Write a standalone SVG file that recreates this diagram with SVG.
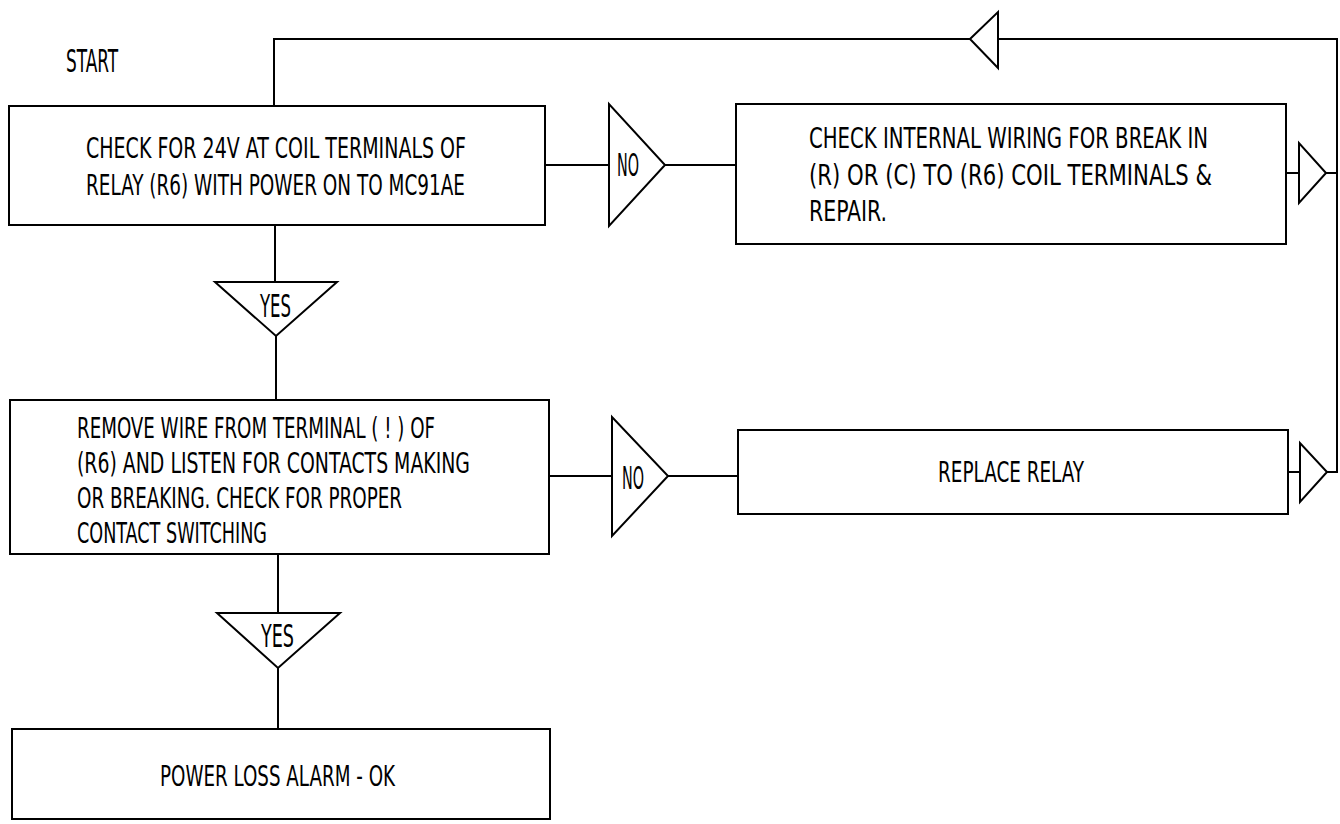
<svg xmlns="http://www.w3.org/2000/svg" width="1340" height="824" viewBox="0 0 1340 824">
<style>
.box{fill:#fff;stroke:#000;stroke-width:2}
.tri{fill:#fff;stroke:#000;stroke-width:2;stroke-linejoin:miter}
.ln{fill:none;stroke:#000;stroke-width:2}
text{font-family:"Liberation Sans Narrow","DejaVu Sans Condensed","Liberation Sans",sans-serif;font-size:29px;fill:#000}
.big{font-size:32px}
</style>
<rect width="1340" height="824" fill="#fff"/>
<g id="connectors">
<polyline class="ln" points="274,106 274,39 970,39"/>
<polyline class="ln" points="998,39 1337,39 1337,472 1327,472"/>
<line class="ln" x1="545" y1="165" x2="609" y2="165"/>
<line class="ln" x1="665" y1="165" x2="736" y2="165"/>
<line class="ln" x1="1286" y1="173" x2="1299" y2="173"/>
<line class="ln" x1="1326" y1="173" x2="1337" y2="173"/>
<line class="ln" x1="275" y1="225" x2="275" y2="282"/>
<line class="ln" x1="276" y1="336" x2="276" y2="400"/>
<line class="ln" x1="549" y1="476" x2="612" y2="476"/>
<line class="ln" x1="668" y1="476" x2="738" y2="476"/>
<line class="ln" x1="1288" y1="472" x2="1300" y2="472"/>
<line class="ln" x1="278" y1="554" x2="278" y2="613"/>
<line class="ln" x1="278" y1="668" x2="278" y2="729"/>
</g>
<g id="start"><text x="66" y="72" class="big" textLength="52" lengthAdjust="spacingAndGlyphs">START</text></g>
<g id="box1">
<rect class="box" x="9" y="106" width="536" height="119"/>
<text x="86" y="158" textLength="380" lengthAdjust="spacingAndGlyphs">CHECK FOR 24V AT COIL TERMINALS OF</text>
<text x="86" y="195" textLength="379" lengthAdjust="spacingAndGlyphs">RELAY (R6) WITH POWER ON TO MC91AE</text>
</g>
<g id="no1">
<polygon class="tri" points="609,104 609,226 665,165"/>
<text x="617" y="176" class="big" textLength="22" lengthAdjust="spacingAndGlyphs">NO</text>
</g>
<g id="box2">
<rect class="box" x="736" y="104" width="550" height="140"/>
<text x="809" y="148" textLength="399" lengthAdjust="spacingAndGlyphs">CHECK INTERNAL WIRING FOR BREAK IN</text>
<text x="809" y="185" textLength="403" lengthAdjust="spacingAndGlyphs">(R) OR (C) TO (R6) COIL TERMINALS &amp;</text>
<text x="809" y="221" textLength="78" lengthAdjust="spacingAndGlyphs">REPAIR.</text>
</g>
<g id="out1"><polygon class="tri" points="1299,143 1299,203 1326,173"/></g>
<g id="loop"><polygon class="tri" points="970,39 998,12 998,68"/></g>
<g id="yes1">
<polygon class="tri" points="215,282 337,282 276,336"/>
<text x="260" y="317" class="big" textLength="31" lengthAdjust="spacingAndGlyphs">YES</text>
</g>
<g id="box3">
<rect class="box" x="10" y="400" width="539" height="154"/>
<text x="77" y="438" textLength="358" lengthAdjust="spacingAndGlyphs">REMOVE WIRE FROM TERMINAL ( ! ) OF</text>
<text x="77" y="473" textLength="393" lengthAdjust="spacingAndGlyphs">(R6) AND LISTEN FOR CONTACTS MAKING</text>
<text x="77" y="508" textLength="325" lengthAdjust="spacingAndGlyphs">OR BREAKING. CHECK FOR PROPER</text>
<text x="77" y="543" textLength="190" lengthAdjust="spacingAndGlyphs">CONTACT SWITCHING</text>
</g>
<g id="no2">
<polygon class="tri" points="612,417 612,536 668,476"/>
<text x="622" y="489" class="big" textLength="22" lengthAdjust="spacingAndGlyphs">NO</text>
</g>
<g id="box4">
<rect class="box" x="738" y="430" width="550" height="84"/>
<text x="938" y="482" textLength="146" lengthAdjust="spacingAndGlyphs">REPLACE RELAY</text>
</g>
<g id="out2"><polygon class="tri" points="1300,443 1300,502 1327,472"/></g>
<g id="yes2">
<polygon class="tri" points="217,613 340,613 278,668"/>
<text x="261" y="647" class="big" textLength="33" lengthAdjust="spacingAndGlyphs">YES</text>
</g>
<g id="box5">
<rect class="box" x="12" y="729" width="538" height="90"/>
<text x="160" y="786" textLength="235" lengthAdjust="spacingAndGlyphs">POWER LOSS ALARM - OK</text>
</g>
</svg>
